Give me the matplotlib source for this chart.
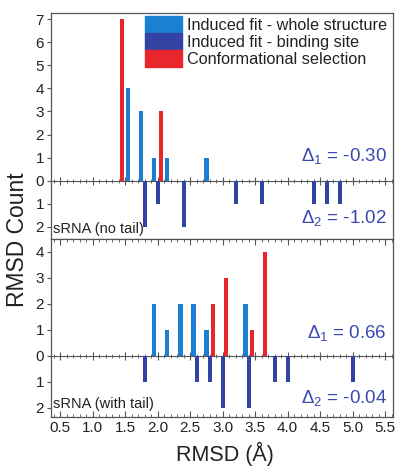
import matplotlib.pyplot as plt
from matplotlib.patches import Patch
from matplotlib.ticker import MultipleLocator, FixedLocator, FuncFormatter

plt.rcParams['font.family'] = ['Liberation Sans', 'DejaVu Sans']
plt.rcParams['mathtext.fontset'] = 'custom'
plt.rcParams['mathtext.rm'] = 'Liberation Sans'
plt.rcParams['mathtext.it'] = 'Liberation Sans:italic'

# sRNA (no tail)
a_whole_x = [1.55, 1.75, 1.95, 2.15, 2.75]
a_whole_n = [4, 3, 1, 1, 1]
a_conf_x = [1.45, 2.05]
a_conf_n = [7, 3]
a_site_x = [1.8, 2.0, 2.4, 3.2, 3.6, 4.4, 4.6, 4.8]
a_site_n = [2, 1, 2, 1, 1, 1, 1, 1]

# sRNA (with tail)
b_whole_x = [1.95, 2.15, 2.35, 2.55, 2.75, 3.35]
b_whole_n = [2, 1, 2, 2, 1, 2]
b_conf_x = [2.85, 3.05, 3.45, 3.65]
b_conf_n = [2, 3, 1, 4]
b_site_x = [1.8, 2.6, 2.8, 3.0, 3.4, 3.8, 4.0, 5.0]
b_site_n = [1, 1, 1, 2, 2, 1, 1, 1]

deltas_a = ['-0.30', '-1.02']
deltas_b = ['0.66', '-0.04']

c_whole = '#1b7fd3'
c_site = '#3243a3'
c_conf = '#e8262b'
c_text = '#3a48b0'
w = 0.065

fig = plt.figure(figsize=(3.98, 4.66), dpi=100)
ax1 = fig.add_axes([51/398, 1-239/466, 342/398, 226/466])
ax2 = fig.add_axes([51/398, 1-417/466, 342/398, 178/466])


def panel(ax, wx, wn, cx, cn, sx, sn, ylim, yticks, name, deltas, ypos):
    ax.bar(wx, wn, width=w, color=c_whole, zorder=3)
    ax.bar(sx, [-v for v in sn], width=w, color=c_site, zorder=3)
    ax.bar(cx, cn, width=w, color=c_conf, zorder=3)
    ax.set_xlim(0.36, 5.62)
    ax.set_ylim(*ylim)
    ax.yaxis.set_major_locator(FixedLocator(yticks))
    ax.yaxis.set_major_formatter(FuncFormatter(lambda v, p: '%d' % abs(v)))
    ax.tick_params(axis='y', direction='out', length=3, width=0.8, labelsize=11, pad=2,
                   colors='#555555', labelcolor='#222222')
    # zero line with ticks
    zx = ax.secondary_xaxis(0, transform=ax.transData)
    zx.xaxis.set_major_locator(MultipleLocator(0.5))
    zx.xaxis.set_minor_locator(MultipleLocator(0.1))
    zx.tick_params(which='major', direction='inout', length=6, width=0.8, labelbottom=False, color='#555555')
    zx.tick_params(which='minor', direction='inout', length=3.5, width=0.6, color='#555555')
    zx.spines['bottom'].set_color('#555555')
    zx.spines['bottom'].set_linewidth(0.8)
    for s in ax.spines.values():
        s.set_color('#555555')
        s.set_linewidth(0.9)
    ax.text(0.006, ypos[0], name, transform=ax.transAxes, fontsize=10.5, color='#222222', va='baseline')
    ax.text(0.982, ypos[1], r'$\Delta_1$ = ' + deltas[0], transform=ax.transAxes, fontsize=13.5,
            color=c_text, ha='right', va='baseline')
    ax.text(0.982, ypos[2], r'$\Delta_2$ = ' + deltas[1], transform=ax.transAxes, fontsize=13.5,
            color=c_text, ha='right', va='baseline')


panel(ax1, a_whole_x, a_whole_n, a_conf_x, a_conf_n, a_site_x, a_site_n,
      (-2.52, 7.26), [-2, -1, 0, 1, 2, 3, 4, 5, 6, 7], 'sRNA (no tail)', deltas_a, (0.027, 0.345, 0.071))
panel(ax2, b_whole_x, b_whole_n, b_conf_x, b_conf_n, b_site_x, b_site_n,
      (-2.35, 4.5), [-2, -1, 0, 1, 2, 3, 4], 'sRNA (with tail)', deltas_b, (0.05, 0.444, 0.079))

ax1.tick_params(axis='x', which='both', bottom=False, labelbottom=False)
ax2.xaxis.set_major_locator(MultipleLocator(0.5))
ax2.xaxis.set_minor_locator(MultipleLocator(0.1))
ax2.xaxis.set_major_formatter(FuncFormatter(lambda v, p: '%.1f' % v))
ax2.tick_params(axis='x', which='both', top=True, direction='in', color='#555555')
ax2.tick_params(axis='x', which='major', length=4, width=0.8, labelsize=11, pad=3, labelcolor='#222222')
ax2.tick_params(axis='x', which='minor', length=2.5, width=0.6)

handles = [Patch(color=c_whole), Patch(color=c_site), Patch(color=c_conf)]
labels = ['Induced fit - whole structure', 'Induced fit - binding site', 'Conformational selection']
fig.legend(handles, labels, loc='upper left', bbox_to_anchor=(145/398, 1-16/466), frameon=False,
           fontsize=11.7, handlelength=2.3, handleheight=1.2, handletextpad=0.3, labelspacing=0.02,
           borderpad=0, borderaxespad=0, labelcolor='#222222')

fig.text(18/398, 1-240/466, 'RMSD Count', rotation=90, ha='center', va='center', fontsize=16.5, color='#222222')
fig.text(225/398, 1-454/466, 'RMSD (Å)', ha='center', va='center', fontsize=15.5, color='#222222')

fig.savefig('out.png', dpi=100)
